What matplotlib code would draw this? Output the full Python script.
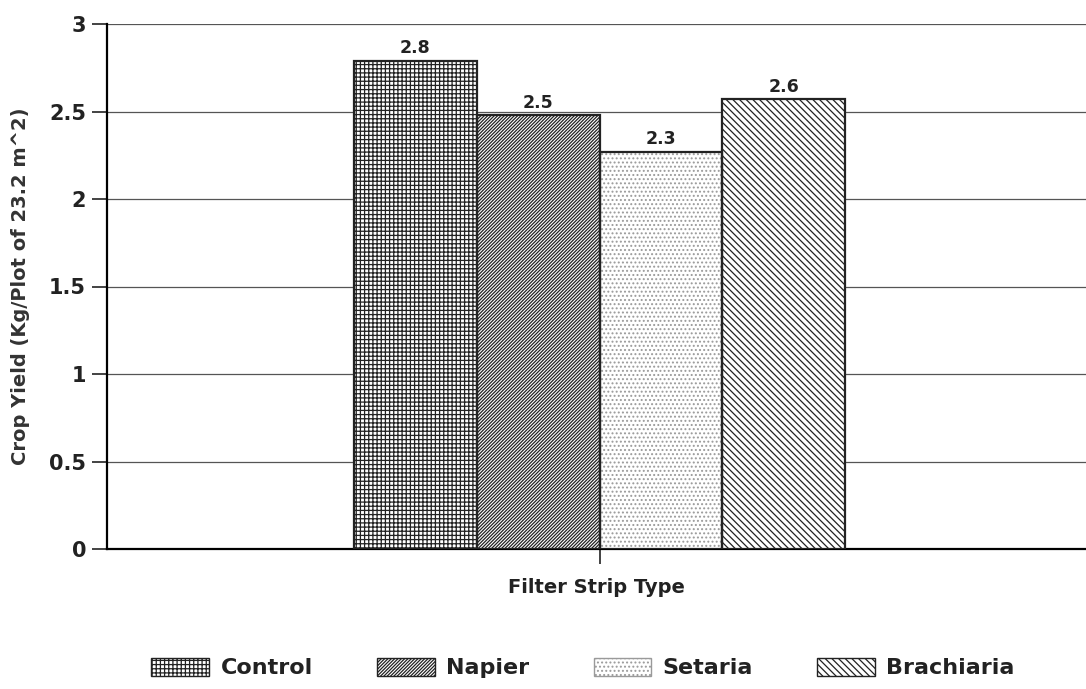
import matplotlib.pyplot as plt
from matplotlib.patches import Patch

plt.rcParams['font.family'] = ['DejaVu Sans']
plt.rcParams['font.weight'] = 'bold'
plt.rcParams['hatch.linewidth'] = 0.9

# donnees
types = ["Control", "Napier", "Setaria", "Brachiaria"]
rendement = [2.79, 2.48, 2.27, 2.57]
etiquettes = ["2.8", "2.5", "2.3", "2.6"]
yticks = [0, 0.5, 1, 1.5, 2, 2.5, 3]
ytick_labels = ["0", "0.5", "1", "1.5", "2", "2.5", "3"]

# style de chaque barre (motif, couleur du motif)
motifs = ["++++", "//////////", "....", "\\\\\\\\\\"]
couleurs_motif = ["#222222", "#222222", "#9a9a9a", "#222222"]

fig = plt.figure(figsize=(10.86, 6.89), dpi=100)
ax = fig.add_axes([107/1086, 140/689, 1 - 107/1086, 525/689])

x = [-1.5, -0.5, 0.5, 1.5]
for i in range(len(types)):
    ax.bar(x[i], rendement[i], width=1, color="white", edgecolor=couleurs_motif[i],
           hatch=motifs[i], linewidth=0, zorder=3)
    ax.bar(x[i], rendement[i], width=1, fill=False, edgecolor="#222222",
           linewidth=1.6, zorder=4)
    ax.text(x[i], rendement[i] + 0.02, etiquettes[i], ha="center", va="bottom",
            fontsize=12.5, fontweight="bold", color="#222222")

ax.set_xlim(-4.012, 3.963)
ax.set_ylim(0, 3)
ax.set_yticks(yticks)
ax.set_yticklabels(ytick_labels, fontsize=15, fontweight="bold", color="#222222")
ax.set_xticks([0])
ax.set_xticklabels([""])
ax.tick_params(axis="both", direction="out", length=11, width=1.2, pad=4, color="#222222")

ax.yaxis.grid(True, color="#555555", linewidth=0.9, zorder=1)
ax.spines["top"].set_visible(False)
ax.spines["right"].set_visible(False)
ax.spines["left"].set_linewidth(1.6)
ax.spines["bottom"].set_linewidth(1.6)

ax.set_ylabel("Crop Yield (Kg/Plot of 23.2 m^2)", fontsize=14, fontweight="bold",
              labelpad=14, color="#333333")
ax.set_xlabel("Filter Strip Type", fontsize=14, fontweight="bold", labelpad=6, color="#222222")

poignees = [Patch(facecolor="white", edgecolor=couleurs_motif[i], hatch=motifs[i], linewidth=1)
            for i in range(len(types))]
fig.legend(poignees, types, loc="center", bbox_to_anchor=(583/1086, 21/689), ncol=4,
           frameon=False, handlelength=2.6, handleheight=0.9,
           handletextpad=0.5, columnspacing=2.9, prop={"weight": "bold", "size": 16},
           labelcolor="#222222")

fig.savefig("out.png", dpi=100)
